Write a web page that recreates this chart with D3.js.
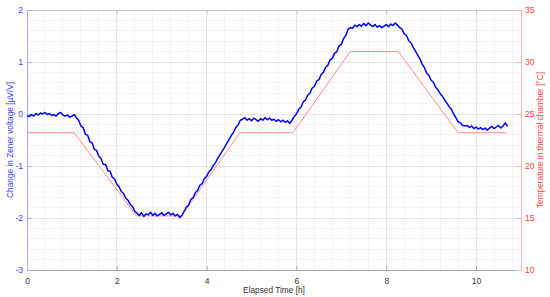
<!DOCTYPE html>
<html><head><meta charset="utf-8">
<script src="https://cdn.jsdelivr.net/npm/d3@7"></script>
<style>body{margin:0;background:#fff}svg{display:block;font-family:"Liberation Sans",Arial,sans-serif}</style>
</head><body>
<script>
// ---- data ----
const xTicks = [0, 2, 4, 6, 8, 10];
const yLeftTicks = [-3, -2, -1, 0, 1, 2];
const yRightTicks = [10, 15, 20, 25, 30, 35];
const xLabel = "Elapsed Time [h]";
const yLeftLabel = "Change in Zener voltage [µV/V]";
const yRightLabel = "Temperature in thermal chamber [°C]";

// chamber temperature (°C) vs elapsed time (h)
const tempHours = [0, 1.05, 2.44, 3.44, 4.74, 5.92, 7.20, 8.27, 9.60, 10.68];
const tempValues = [23.2, 23.2, 15.2, 15.2, 23.2, 23.2, 31.0, 31.0, 23.2, 23.2];

// Zener voltage change (µV/V) vs elapsed time (h)
const zenerHours = [
 0.00,0.05,0.10,0.15,0.20,0.25,0.30,0.35,0.40,0.45,0.50,0.55,0.60,0.65,0.70,0.75,0.80,0.85,0.90,0.95,1.00,1.05,
 1.10,1.15,1.20,1.25,1.30,1.35,1.40,1.45,1.50,1.55,1.60,1.65,1.70,1.75,1.80,1.85,1.90,1.95,2.00,2.05,2.10,2.15,2.20,2.25,2.30,2.35,2.40,2.45,
 2.50,2.55,2.60,2.65,2.70,2.75,2.80,2.85,2.90,2.95,3.00,3.05,3.10,3.15,3.20,3.25,3.30,3.35,3.40,3.45,
 3.50,3.55,3.60,3.65,3.70,3.75,3.80,3.85,3.90,3.95,4.00,4.05,4.10,4.15,4.20,4.25,4.30,4.35,4.40,4.45,4.50,4.55,4.60,4.65,4.70,4.75,4.80,
 4.85,4.90,4.95,5.00,5.05,5.10,5.15,5.20,5.25,5.30,5.35,5.40,5.45,5.50,5.55,5.60,5.65,5.70,5.75,5.80,5.85,5.90,
 5.95,6.00,6.05,6.10,6.15,6.20,6.25,6.30,6.35,6.40,6.45,6.50,6.55,6.60,6.65,6.70,6.75,6.80,6.85,6.90,6.95,7.00,7.05,7.10,7.15,7.20,
 7.25,7.30,7.35,7.40,7.45,7.50,7.55,7.60,7.65,7.70,7.75,7.80,7.85,7.90,7.95,8.00,8.05,8.10,8.15,8.20,8.25,
 8.30,8.35,8.40,8.45,8.50,8.55,8.60,8.65,8.70,8.75,8.80,8.85,8.90,8.95,9.00,9.05,9.10,9.15,9.20,9.25,9.30,9.35,9.40,9.45,9.50,9.55,9.60,9.65,9.70,9.75,
 9.80,9.85,9.90,9.95,10.00,10.05,10.10,10.15,10.20,10.25,10.30,10.35,10.40,10.45,10.50,10.55,10.60,10.65,10.70
];
const zenerValues = [
 -0.03,-0.05,-0.01,-0.04,0.01,-0.02,0.02,0.00,0.03,-0.01,0.01,-0.03,-0.01,-0.04,0.01,0.03,-0.02,-0.04,-0.02,-0.06,-0.04,-0.01,
 -0.07,-0.12,-0.23,-0.26,-0.39,-0.41,-0.53,-0.56,-0.68,-0.70,-0.81,-0.86,-0.97,-0.97,-1.09,-1.10,-1.22,-1.25,-1.35,-1.40,-1.49,-1.53,-1.62,-1.66,-1.74,-1.78,-1.87,-1.91,
 -1.95,-1.90,-1.97,-1.92,-1.94,-1.89,-1.95,-1.91,-1.96,-1.93,-1.90,-1.95,-1.92,-1.89,-1.94,-1.91,-1.96,-1.93,-1.99,-1.95,
 -1.87,-1.79,-1.75,-1.64,-1.61,-1.51,-1.47,-1.37,-1.34,-1.24,-1.20,-1.11,-1.07,-0.99,-0.93,-0.85,-0.78,-0.71,-0.64,-0.56,-0.49,-0.41,-0.35,-0.26,-0.21,-0.12,-0.10,
 -0.07,-0.12,-0.09,-0.13,-0.08,-0.11,-0.14,-0.09,-0.12,-0.07,-0.11,-0.08,-0.12,-0.10,-0.14,-0.11,-0.15,-0.12,-0.16,-0.13,-0.18,-0.12,
 -0.05,0.00,0.09,0.13,0.23,0.27,0.36,0.40,0.50,0.53,0.63,0.66,0.76,0.80,0.90,0.94,1.04,1.07,1.17,1.20,1.31,1.34,1.45,1.51,1.63,1.66,
 1.65,1.71,1.68,1.72,1.69,1.74,1.70,1.75,1.71,1.68,1.72,1.67,1.70,1.66,1.69,1.72,1.68,1.73,1.70,1.75,1.71,
 1.66,1.63,1.54,1.51,1.41,1.37,1.28,1.21,1.13,1.06,0.96,0.89,0.79,0.74,0.65,0.61,0.51,0.47,0.39,0.34,0.27,0.21,0.14,0.09,0.00,-0.07,-0.15,-0.17,-0.22,-0.23,
 -0.22,-0.26,-0.23,-0.28,-0.25,-0.29,-0.26,-0.30,-0.27,-0.31,-0.27,-0.24,-0.28,-0.25,-0.22,-0.27,-0.23,-0.17,-0.24
];

// ---- layout ----
const W = 550, H = 297;
const m = {left: 27, right: 29, top: 10, bottom: 27};
const iw = W - m.left - m.right, ih = H - m.top - m.bottom;
const blue = "#0000ff", blueAxis = "#a5a5ff", blueText = "#4040ff";
const red = "#ff8a8a", redAxis = "#ffb4b4", redText = "#ff4040";

const x = d3.scaleLinear().domain([0, 11]).range([0, iw]);
const yL = d3.scaleLinear().domain([-3, 2]).range([ih, 0]);
const yR = d3.scaleLinear().domain([10, 35]).range([ih, 0]);

const svg = d3.select("body").append("svg").attr("width", W).attr("height", H);
const g = svg.append("g").attr("transform", `translate(${m.left},${m.top})`);

// minor grid
const xMinor = d3.range(0, 11.0001, 0.4).filter(v => Math.abs(v/2 - Math.round(v/2)) > 1e-6);
const yMinor = d3.range(-3, 2.0001, 0.2).filter(v => Math.abs(v - Math.round(v)) > 1e-6);
g.append("g").selectAll("line").data(xMinor).join("line")
  .attr("x1", d => x(d)).attr("x2", d => x(d)).attr("y1", 0).attr("y2", ih)
  .attr("stroke", "#f3f3f3").attr("stroke-width", 1).attr("shape-rendering", "crispEdges");
g.append("g").selectAll("line").data(yMinor).join("line")
  .attr("x1", 0).attr("x2", iw).attr("y1", d => yL(d)).attr("y2", d => yL(d))
  .attr("stroke", "#f3f3f3").attr("stroke-width", 1).attr("shape-rendering", "crispEdges");
// major grid
g.append("g").selectAll("line").data(xTicks).join("line")
  .attr("x1", d => x(d)).attr("x2", d => x(d)).attr("y1", 0).attr("y2", ih)
  .attr("stroke", "#e6e6e6").attr("stroke-width", 1).attr("shape-rendering", "crispEdges");
g.append("g").selectAll("line").data(yLeftTicks).join("line")
  .attr("x1", 0).attr("x2", iw).attr("y1", d => yL(d)).attr("y2", d => yL(d))
  .attr("stroke", "#e6e6e6").attr("stroke-width", 1).attr("shape-rendering", "crispEdges");

// axes
function styleAxis(sel, lineColor, textColor) {
  sel.select(".domain").attr("stroke", lineColor);
  sel.selectAll(".tick line").attr("stroke", lineColor);
  sel.selectAll(".tick text").attr("fill", textColor).attr("font-size", 8.5);
  sel.attr("font-family", null);
}
const xAxis = g.append("g").attr("transform", `translate(0,${ih})`)
  .call(d3.axisBottom(x).tickValues(xTicks).tickSizeInner(-4).tickSizeOuter(0));
styleAxis(xAxis, "#a8a8a8", "#333");
xAxis.selectAll(".tick text").attr("y", 8).attr("dy", "0.71em");
const xTop = g.append("g")
  .call(d3.axisTop(x).tickValues(xTicks).tickSizeInner(-4).tickSizeOuter(0).tickFormat(""));
styleAxis(xTop, "#c4c4c4", "#333");
const yAxisL = g.append("g")
  .call(d3.axisLeft(yL).tickValues(yLeftTicks).tickSizeInner(-4).tickSizeOuter(0).tickFormat(d3.format("d")));
styleAxis(yAxisL, blueAxis, blueText);
yAxisL.selectAll(".tick text").attr("x", -4).text(d => d < 0 ? "-" + Math.abs(d) : String(d));
const yAxisR = g.append("g").attr("transform", `translate(${iw},0)`)
  .call(d3.axisRight(yR).tickValues(yRightTicks).tickSizeInner(-4).tickSizeOuter(0));
styleAxis(yAxisR, redAxis, redText);
yAxisR.selectAll(".tick text").attr("x", 4);

// temperature line
const tempData = tempHours.map((t, i) => [t, tempValues[i]]);
g.append("path").datum(tempData)
  .attr("fill", "none").attr("stroke", red).attr("stroke-width", 1)
  .attr("d", d3.line().x(d => x(d[0])).y(d => yR(d[1])));

// zener line
const zenerData = zenerHours.map((t, i) => [t, zenerValues[i]]);
g.append("path").datum(zenerData)
  .attr("fill", "none").attr("stroke", blue).attr("stroke-width", 1.5).attr("stroke-linejoin", "round")
  .attr("d", d3.line().x(d => x(d[0])).y(d => yL(d[1])));

// labels
svg.append("text").attr("x", m.left + x(5.5)).attr("y", 293).attr("text-anchor", "middle")
  .attr("font-size", 8.3).attr("fill", "#333").text(xLabel);
svg.append("text").attr("transform", `translate(13,${m.top + ih/2}) rotate(-90)`).attr("text-anchor", "middle")
  .attr("font-size", 8.3).attr("fill", blueText).text(yLeftLabel);
svg.append("text").attr("transform", `translate(543,${m.top + ih/2}) rotate(-90)`).attr("text-anchor", "middle")
  .attr("font-size", 8.3).attr("fill", redText).text(yRightLabel);
</script>
</body></html>
